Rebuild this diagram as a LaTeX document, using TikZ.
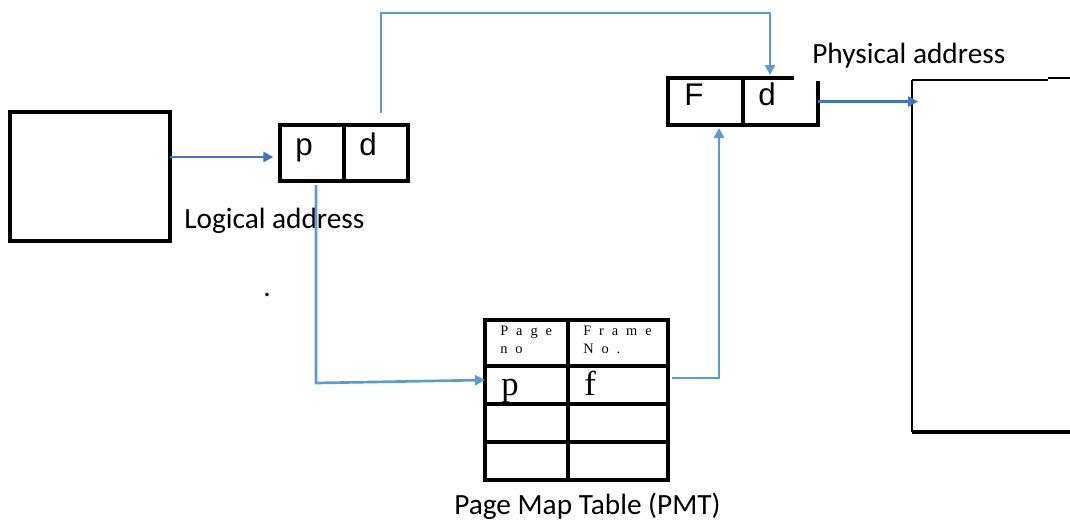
\documentclass[tikz,border=0pt]{standalone}
\usepackage{fontspec}
\setmainfont{Carlito}
\newfontfamily\cellfont{Liberation Sans}
\newfontfamily\tabfont{Liberation Serif}
\newfontfamily\hdrfont[LetterSpace=55]{Liberation Serif}
\usetikzlibrary{arrows.meta}
\definecolor{linkblue}{HTML}{5B9BD5}
\definecolor{arrowblue}{HTML}{4472C4}
\begin{document}
\begin{tikzpicture}[x=0.75pt,y=-0.75pt,
  box/.style 2 args={draw, line width=2.6pt, inner sep=0pt, outer sep=0pt,
    anchor=north west, minimum width=#1*0.75pt, minimum height=#2*0.75pt},
  ghost/.style 2 args={inner sep=0pt, outer sep=0pt,
    anchor=north west, minimum width=#1*0.75pt, minimum height=#2*0.75pt},
  caption/.style={inner sep=0pt, anchor=base west, font=\fontsize{22}{26}\selectfont},
  letter/.style={inner sep=0pt, anchor=base west, font=\cellfont\fontsize{23.5}{27}\selectfont},
  entry/.style={inner sep=0pt, anchor=base west, font=\tabfont\fontsize{26}{30}\selectfont},
  header/.style={inner sep=0pt, anchor=north west, align=left,
    font=\hdrfont\fontsize{10.8}{13.5}\selectfont},
  link/.style={draw=linkblue, line width=2pt},
  linkarrow/.style={link, -{Triangle[length=7.5pt,width=7.5pt]}},
  mainarrow/.style={draw=arrowblue, line width=2pt, -{Triangle[length=7.5pt,width=7.5pt]}},
]
\useasboundingbox (0,0) rectangle (1070,521);

% processor
\node[box={160}{129}] (cpu) at (10,112) {};

% logical address: page number and offset
\node[box={64}{56}] (lp) at (280,125) {};
\node[box={64}{56}] (ld) at (344,125) {};
\node[letter] at ([shift={(15,2)}]lp.west) {p};
\node[letter] at ([shift={(15,2)}]ld.west) {d};
\node[caption] (logcap) at (184,228) {Logical address};

% physical address: frame number and offset
\node[ghost={75}{47}] (pF) at (668,78) {};
\node[ghost={75}{47}] (pd) at (743,78) {};
\draw[line width=2.6pt] ([yshift=-2.25pt]pd.north east) -- (pd.south east)
  -- (pF.south west) -- (pF.north west) -- ([xshift=-18pt]pd.north east);
\draw[line width=2.6pt] (pF.north east) -- (pF.south east);
\node[letter] at ([shift={(16,3.5)}]pF.west) {F};
\node[letter] at ([shift={(15,3.5)}]pd.west) {d};
\node[caption] (phycap) at (812,63) {Physical address};

% physical memory
\node[ghost={200}{352}] (mem) at (912,80) {};
\draw[line width=1.8pt] (mem.north west) -- (mem.south west);
\draw[line width=2.6pt] (mem.south west) -- (mem.south east);
\draw[line width=1pt] (mem.north west) -- (1048,80);
\draw[line width=1.6pt] (1048,78) -- (1075,78);

% page map table
\node[box={83}{46}] (h1) at (485,320) {};
\node[box={100}{46}] (h2) at (568,320) {};
\node[box={83}{38}] (r1a) at (485,366) {};
\node[box={100}{38}] (r1b) at (568,366) {};
\node[box={83}{38}] (r2a) at (485,404) {};
\node[box={100}{38}] (r2b) at (568,404) {};
\node[box={83}{38}] (r3a) at (485,442) {};
\node[box={100}{38}] (r3b) at (568,442) {};
\node[header] at ([shift={(15,6)}]h1.north west) {Page\\no};
\node[header] at ([shift={(15,6)}]h2.north west) {Frame\\No.};
\node[entry] at ([shift={(16,10)}]r1a.west) {p};
\node[entry] at ([shift={(16,10)}]r1b.west) {f};
\node[caption] (pmtcap) at (454,514) {Page Map Table (PMT)};

\node[caption] (dot) at (263,296) {.};

% bends of the connectors
\coordinate (u1) at (381,13);
\coordinate (u2) at (770,13);
\coordinate (l1) at (316,383);
\coordinate (l2) at (719,378);

% connectors
\draw[mainarrow, shorten >=5pt] ([yshift=-3pt]cpu.east |- lp.west) -- ([yshift=-3pt]lp.west);
\path[linkarrow] ([yshift=9pt]ld.north -| u1) -- (u1) -- (u2)
  -- ([yshift=2.25pt]u2 |- pd.north);
\path[linkarrow] ([yshift=-3pt]lp.south -| l1) -- (l1)
  -- ([yshift=3.75pt]r1a.west);
\path[linkarrow] ([xshift=3pt]r1b.east |- l2) -- (l2)
  -- ([yshift=-2.25pt]l2 |- pF.south);
\draw[mainarrow] (pd.east) -- ([xshift=4.5pt]pd.east -| mem.west);
\end{tikzpicture}
\end{document}
